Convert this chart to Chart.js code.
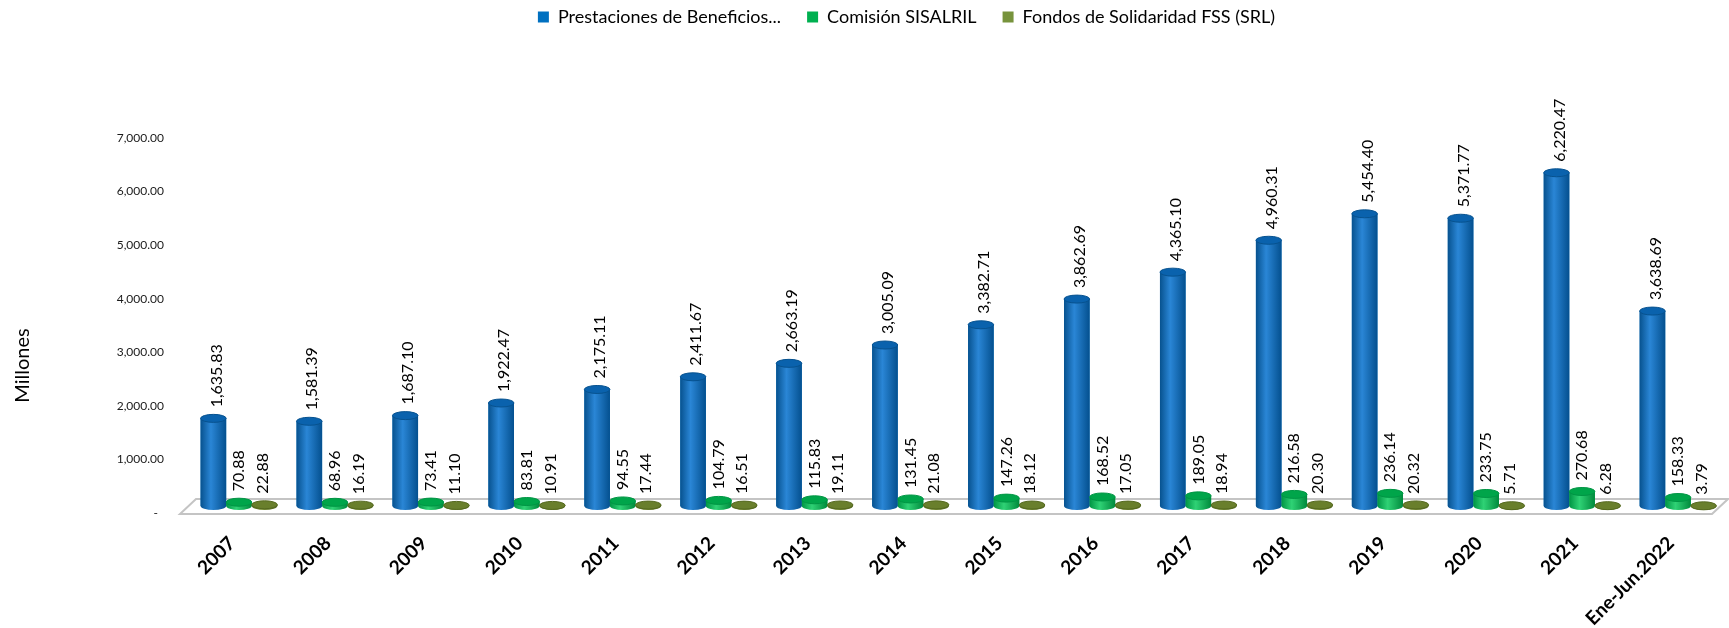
<!DOCTYPE html>
<html>
<head>
<meta charset="utf-8">
<script src="https://cdn.jsdelivr.net/npm/chart.js@4.4.0/dist/chart.umd.min.js"></script>
<style>
  html, body { margin: 0; padding: 0; background: #fff; }
  #wrap { width: 1729px; height: 628px; }
</style>
</head>
<body>
<div id="wrap"><canvas id="prestacionesChart" width="1729" height="628"></canvas></div>
<script>
const years = ['2007', '2008', '2009', '2010', '2011', '2012', '2013', '2014',
  '2015', '2016', '2017', '2018', '2019', '2020', '2021', 'Ene-Jun.2022'];

const prestaciones = [1635.83, 1581.39, 1687.10, 1922.47, 2175.11, 2411.67, 2663.19, 3005.09,
  3382.71, 3862.69, 4365.10, 4960.31, 5454.40, 5371.77, 6220.47, 3638.69];
const comision = [70.88, 68.96, 73.41, 83.81, 94.55, 104.79, 115.83, 131.45,
  147.26, 168.52, 189.05, 216.58, 236.14, 233.75, 270.68, 158.33];
const fondosFSS = [22.88, 16.19, 11.10, 10.91, 17.44, 16.51, 19.11, 21.08,
  18.12, 17.05, 18.94, 20.30, 20.32, 5.71, 6.28, 3.79];

const seriesNames = ['Prestaciones de Beneficios...', 'Comisión SISALRIL', 'Fondos de Solidaridad FSS (SRL)'];
const yTitle = 'Millones';
const yMax = 7000;
const yStep = 1000;

const FONT = 'Lato, "Liberation Sans", sans-serif';
const LEGEND_GAP = 26;

// [left edge, highlight, right edge, top cap]
const shades = [
  ['#07528f', '#2a86d6', '#04508f', '#0a62ad'],
  ['#009544', '#2fd275', '#008a3c', '#00a54a'],
  ['#55691f', '#7c9238', '#4f6320', '#697f2c']
];
// value labels sit a touch right on the tall bars
const labelShift = [3, 0, -2];

function fmt(v) {
  return v.toLocaleString('en-US', { minimumFractionDigits: 2, maximumFractionDigits: 2 });
}

// push the plot down under the legend, keep the legend row near the top
const legendPlacement = {
  id: 'legendPlacement',
  beforeInit(chart) {
    const fit = chart.legend.fit;
    chart.legend.fit = function () {
      fit.bind(chart.legend)();
      this.height = 131;
    };
  },
  afterLayout(chart) {
    const lg = chart.legend;
    const up = LEGEND_GAP - 8;
    lg.top -= up;
    lg.bottom -= up;
    lg.left += 42;
    lg.right += 42;
  }
};

// y axis title, sits a bit below the middle of the plot
const axisTitle = {
  id: 'axisTitle',
  afterDraw(chart) {
    const { ctx, chartArea } = chart;
    ctx.save();
    ctx.translate(23, (chartArea.top + chartArea.bottom) / 2 + 47);
    ctx.rotate(-Math.PI / 2);
    ctx.font = '20px ' + FONT;
    ctx.fillStyle = '#000';
    ctx.textAlign = 'center';
    ctx.textBaseline = 'middle';
    ctx.fillText(yTitle, 0, 0);
    ctx.restore();
  }
};

// flat 3d floor under the bars
const floorPlugin = {
  id: 'floor',
  beforeDatasetsDraw(chart) {
    const { ctx, chartArea } = chart;
    const y0 = chart.scales.y.getPixelForValue(0);
    ctx.save();
    ctx.beginPath();
    ctx.moveTo(chartArea.left - 11, y0 + 8);
    ctx.lineTo(chartArea.right - 14, y0 + 8);
    ctx.lineTo(chartArea.right + 2, y0 - 7);
    ctx.lineTo(chartArea.left + 5, y0 - 7);
    ctx.closePath();
    ctx.fillStyle = '#ffffff';
    ctx.fill();
    ctx.lineWidth = 2;
    ctx.strokeStyle = '#c4c4c4';
    ctx.stroke();
    ctx.restore();
  }
};

// shade each bar into a cylinder and write the value above it
const cylinderPlugin = {
  id: 'cylinders',
  afterDatasetsDraw(chart) {
    const ctx = chart.ctx;
    const labels = [];
    chart.data.datasets.forEach((ds, di) => {
      const meta = chart.getDatasetMeta(di);
      const c = shades[di];
      meta.data.forEach((bar, i) => {
        const { x, y, base, width } = bar.getProps(['x', 'y', 'base', 'width'], true);
        const left = x - width / 2;
        const rx = width / 2;
        const ry = 4;

        ctx.save();
        const grad = ctx.createLinearGradient(left, 0, left + width, 0);
        grad.addColorStop(0, c[0]);
        grad.addColorStop(0.4, c[1]);
        grad.addColorStop(1, c[2]);
        ctx.fillStyle = grad;
        ctx.beginPath();
        ctx.moveTo(left, y);
        ctx.lineTo(left, base);
        ctx.ellipse(x, base, rx, ry, 0, Math.PI, 0, true);
        ctx.lineTo(left + width, y);
        ctx.closePath();
        ctx.fill();

        ctx.beginPath();
        ctx.ellipse(x, y, rx, ry, 0, 0, Math.PI * 2);
        ctx.fillStyle = c[3];
        ctx.fill();
        ctx.lineWidth = 1;
        ctx.strokeStyle = c[0];
        ctx.stroke();
        ctx.restore();

        labels.push({ x: x + labelShift[di], y: y - ry - 7, text: fmt(ds.data[i]) });
      });
    });

    ctx.save();
    ctx.fillStyle = '#000';
    ctx.font = '16px ' + FONT;
    ctx.textAlign = 'left';
    ctx.textBaseline = 'middle';
    labels.forEach(l => {
      ctx.save();
      ctx.translate(l.x, l.y);
      ctx.rotate(-Math.PI / 2);
      ctx.fillText(l.text, 0, 0);
      ctx.restore();
    });
    ctx.restore();
  }
};

const ctx = document.getElementById('prestacionesChart').getContext('2d');

new Chart(ctx, {
  type: 'bar',
  data: {
    labels: years,
    datasets: [
      { label: seriesNames[0], data: prestaciones, backgroundColor: '#0070C0' },
      { label: seriesNames[1], data: comision, backgroundColor: '#00B050' },
      { label: seriesNames[2], data: fondosFSS, backgroundColor: '#77933C' }
    ]
  },
  options: {
    responsive: false,
    animation: false,
    layout: { padding: { left: 3, right: 3, top: 0, bottom: 0 } },
    datasets: {
      bar: { categoryPercentage: 0.8, barPercentage: 1.0, borderWidth: 0 }
    },
    plugins: {
      legend: {
        position: 'top',
        labels: {
          boxWidth: 11,
          boxHeight: 11,
          padding: LEGEND_GAP,
          color: '#000',
          font: { family: FONT, size: 18 }
        }
      },
      tooltip: { enabled: false }
    },
    scales: {
      x: {
        grid: { display: false, drawTicks: false },
        border: { display: false },
        ticks: {
          color: '#000',
          font: { family: FONT, size: 19, weight: 'bold' },
          maxRotation: 45,
          minRotation: 45,
          autoSkip: false,
          padding: 26,
          labelOffset: -7
        },
        afterFit(scale) { scale.height = 122; }
      },
      y: {
        min: 0,
        max: yMax,
        grid: { display: false, drawTicks: false },
        border: { display: false },
        ticks: {
          stepSize: yStep,
          color: '#1a1a1a',
          padding: 27,
          labelOffset: 7,
          font: { family: FONT, size: 12 },
          callback: v => v === 0 ? '-  ' : fmt(v)
        },
        afterFit(scale) { scale.width = 188; }
      }
    }
  },
  plugins: [legendPlacement, axisTitle, floorPlugin, cylinderPlugin]
});
</script>
</body>
</html>
